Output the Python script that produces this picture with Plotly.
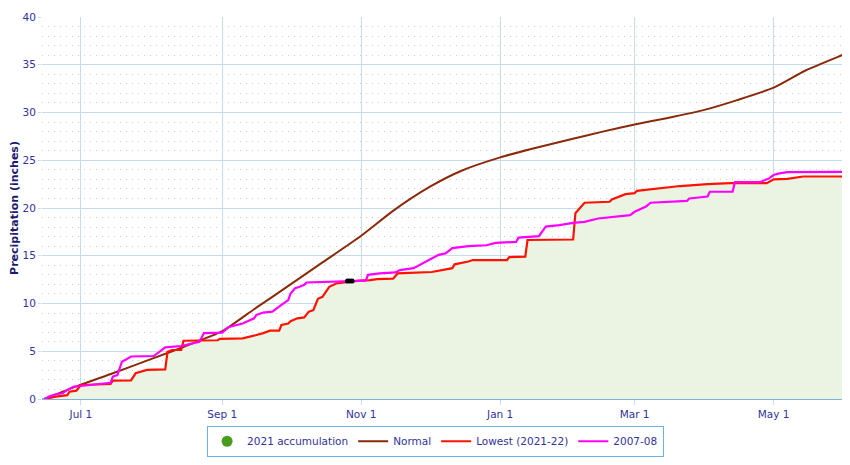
import plotly.graph_objects as go

# Cumulative precipitation (inches), season Jun 2021 - Jun 2022
normal_dates = [
    "2021-06-15", "2021-07-01", "2021-07-15", "2021-08-01", "2021-08-15",
    "2021-09-01", "2021-09-15", "2021-10-01", "2021-10-15", "2021-11-01",
    "2021-11-15", "2021-12-01", "2021-12-15", "2022-01-01", "2022-01-15",
    "2022-02-01", "2022-02-15", "2022-03-01", "2022-03-15", "2022-04-01",
    "2022-04-15", "2022-05-01", "2022-05-15", "2022-06-01", "2022-06-04",
]
normal_vals = [
    0.0, 1.5, 2.7, 4.2, 5.45,
    7.1, 9.4, 12.0, 14.3, 17.1,
    19.7, 22.2, 23.9, 25.3, 26.2,
    27.2, 28.0, 28.75, 29.4, 30.3,
    31.3, 32.6, 34.4, 36.1, 36.4,
]

lowest_dates = [
    "2021-06-15", "2021-06-20", "2021-06-25", "2021-06-26", "2021-06-29",
    "2021-07-01", "2021-07-14", "2021-07-15", "2021-07-23", "2021-07-25",
    "2021-07-30", "2021-08-07", "2021-08-08", "2021-08-10", "2021-08-14",
    "2021-08-15", "2021-08-30", "2021-08-31", "2021-09-10", "2021-09-13",
    "2021-09-16", "2021-09-19", "2021-09-22", "2021-09-26", "2021-09-27",
    "2021-09-30", "2021-10-01", "2021-10-04", "2021-10-07", "2021-10-09",
    "2021-10-11", "2021-10-13", "2021-10-15", "2021-10-17", "2021-10-18",
    "2021-10-21", "2021-10-24", "2021-10-27", "2021-10-31", "2021-11-05",
    "2021-11-08", "2021-11-15", "2021-11-17", "2021-11-22", "2021-12-02",
    "2021-12-11", "2021-12-12", "2021-12-18", "2021-12-20", "2022-01-04",
    "2022-01-05", "2022-01-12", "2022-01-13", "2022-02-02", "2022-02-03",
    "2022-02-05", "2022-02-07", "2022-02-18", "2022-02-19", "2022-02-25",
    "2022-03-01", "2022-03-02", "2022-03-08", "2022-03-13", "2022-03-21",
    "2022-04-02", "2022-04-12", "2022-04-28", "2022-05-01", "2022-05-07",
    "2022-05-09", "2022-05-14", "2022-06-04",
]
lowest_vals = [
    0.0, 0.25, 0.4, 0.76, 0.87,
    1.47, 1.57, 1.92, 1.95, 2.69,
    3.04, 3.1, 4.95, 5.13, 5.15,
    6.1, 6.15, 6.3, 6.35, 6.5,
    6.7, 6.9, 7.15, 7.15, 7.75,
    7.9, 8.15, 8.45, 8.55, 9.15,
    9.3, 10.5, 10.7, 11.4, 11.75,
    12.1, 12.2, 12.3, 12.4, 12.45,
    12.55, 12.6, 13.15, 13.2, 13.3,
    13.7, 14.1, 14.4, 14.55, 14.55,
    14.85, 14.9, 16.65, 16.7, 19.45,
    20.0, 20.55, 20.65, 20.9, 21.45,
    21.55, 21.8, 21.95, 22.1, 22.3,
    22.5, 22.6, 22.6, 23.0, 23.05,
    23.1, 23.3, 23.3,
]

s0708_dates = [
    "2021-06-15", "2021-06-17", "2021-06-20", "2021-06-23", "2021-06-25",
    "2021-06-28", "2021-07-01", "2021-07-14", "2021-07-15", "2021-07-17",
    "2021-07-19", "2021-07-22", "2021-07-23", "2021-08-02", "2021-08-07",
    "2021-08-14", "2021-08-22", "2021-08-24", "2021-09-01", "2021-09-04",
    "2021-09-10", "2021-09-15", "2021-09-16", "2021-09-19", "2021-09-23",
    "2021-09-27", "2021-09-30", "2021-10-01", "2021-10-03", "2021-10-05",
    "2021-10-07", "2021-10-08", "2021-10-18", "2021-10-30", "2021-11-03",
    "2021-11-04", "2021-11-09", "2021-11-16", "2021-11-18", "2021-11-24",
    "2021-11-28", "2021-12-02", "2021-12-05", "2021-12-08", "2021-12-11",
    "2021-12-18", "2021-12-26", "2021-12-30", "2022-01-08", "2022-01-09",
    "2022-01-18", "2022-01-21", "2022-01-27", "2022-02-02", "2022-02-07",
    "2022-02-13", "2022-02-22", "2022-02-27", "2022-03-01", "2022-03-03",
    "2022-03-06", "2022-03-08", "2022-03-24", "2022-03-25", "2022-04-02",
    "2022-04-03", "2022-04-13", "2022-04-14", "2022-04-25", "2022-04-28",
    "2022-04-29", "2022-05-01", "2022-05-03", "2022-05-07", "2022-06-04",
]
s0708_vals = [
    0.0, 0.25, 0.5, 0.6, 0.95,
    1.3, 1.36, 1.7, 2.35, 2.5,
    3.9, 4.35, 4.45, 4.5, 5.4,
    5.55, 6.0, 6.9, 6.95, 7.55,
    7.9, 8.45, 8.8, 9.05, 9.15,
    9.85, 10.35, 11.05, 11.6, 11.75,
    11.95, 12.2, 12.3, 12.4, 12.4,
    13.0, 13.15, 13.25, 13.5, 13.7,
    14.2, 14.7, 15.1, 15.25, 15.8,
    16.0, 16.1, 16.35, 16.45, 16.9,
    17.05, 18.05, 18.2, 18.45, 18.55,
    18.9, 19.15, 19.25, 19.6, 19.85,
    20.15, 20.55, 20.75, 21.0, 21.2,
    21.7, 21.7, 22.7, 22.7, 23.0,
    23.1, 23.45, 23.6, 23.75, 23.8,
]

# small black markers near end of October
marker_dates = ["2021-10-26", "2021-10-27", "2021-10-28"]
marker_vals = [12.35, 12.35, 12.35]

x_tick_dates = ["2021-07-01", "2021-09-01", "2021-11-01", "2022-01-01", "2022-03-01", "2022-05-01"]
x_tick_labels = ["Jul 1", "Sep 1", "Nov 1", "Jan 1", "Mar 1", "May 1"]
y_tick_vals = [0, 5, 10, 15, 20, 25, 30, 35, 40]

text_col = '#333399'
grid_col = '#c4dcec'

fig = go.Figure()

# 2021 accumulation (area under current season)
fig.add_trace(go.Scatter(
    x=lowest_dates, y=lowest_vals, mode='lines', fill='tozeroy',
    fillcolor='#ebf4e3', line=dict(width=0, color='#ebf4e3'),
    hoverinfo='skip', showlegend=False, legendgroup='acc'
))
fig.add_trace(go.Scatter(
    x=[None], y=[None], mode='markers', name='2021 accumulation',
    marker=dict(symbol='circle', color='#4a9c1c', size=11),
    legendgroup='acc'
))
fig.add_trace(go.Scatter(
    x=normal_dates, y=normal_vals, mode='lines', name='Normal',
    line=dict(color='#8b2a0a', width=2, shape='spline', smoothing=0.6)
))
fig.add_trace(go.Scatter(
    x=lowest_dates, y=lowest_vals, mode='lines', name='Lowest (2021-22)',
    line=dict(color='#ff1200', width=2.2)
))
fig.add_trace(go.Scatter(
    x=s0708_dates, y=s0708_vals, mode='lines', name='2007-08',
    line=dict(color='#ff00ff', width=2.2)
))
fig.add_trace(go.Scatter(
    x=marker_dates, y=marker_vals, mode='markers', showlegend=False,
    marker=dict(symbol='circle', color='black', size=5)
))

# page body has an 8px margin, so the figure is sized to fit inside the window
fig.update_layout(
    width=834, height=449,
    margin=dict(l=34, r=0, t=9, b=58),
    plot_bgcolor='white', paper_bgcolor='white',
    font=dict(family='DejaVu Sans', size=10.5, color=text_col),
    showlegend=True,
    legend=dict(
        orientation='h', x=0.492, xanchor='center', y=-0.07, yanchor='top',
        bordercolor='#6ab4e0', borderwidth=1, bgcolor='white',
        font=dict(size=10.5, color=text_col), itemwidth=30,
    ),
    xaxis=dict(
        range=["2021-06-13 22:00", "2022-05-31"],
        tickvals=x_tick_dates, ticktext=x_tick_labels,
        showgrid=True, gridcolor=grid_col, gridwidth=1,
        ticks='outside', ticklen=5, tickcolor=grid_col,
        showline=False, zeroline=False,
        tickfont=dict(size=10.5, color=text_col),
    ),
    yaxis=dict(
        range=[0, 40], tickvals=y_tick_vals,
        showgrid=True, gridcolor=grid_col, gridwidth=1,
        ticks='outside', ticklen=3, tickcolor=grid_col,
        zeroline=True, zerolinecolor='#7fb2d8', zerolinewidth=1.5,
        showline=False,
        minor=dict(dtick=1, showgrid=True, gridcolor='#cccccc', griddash='1px,5px', gridwidth=1),
        title=dict(text='Precipitation (inches)',
                   font=dict(size=11, color='#1a1a70', weight='bold'), standoff=4),
        tickfont=dict(size=10.5, color=text_col),
    ),
)

fig.write_html("out.html")
